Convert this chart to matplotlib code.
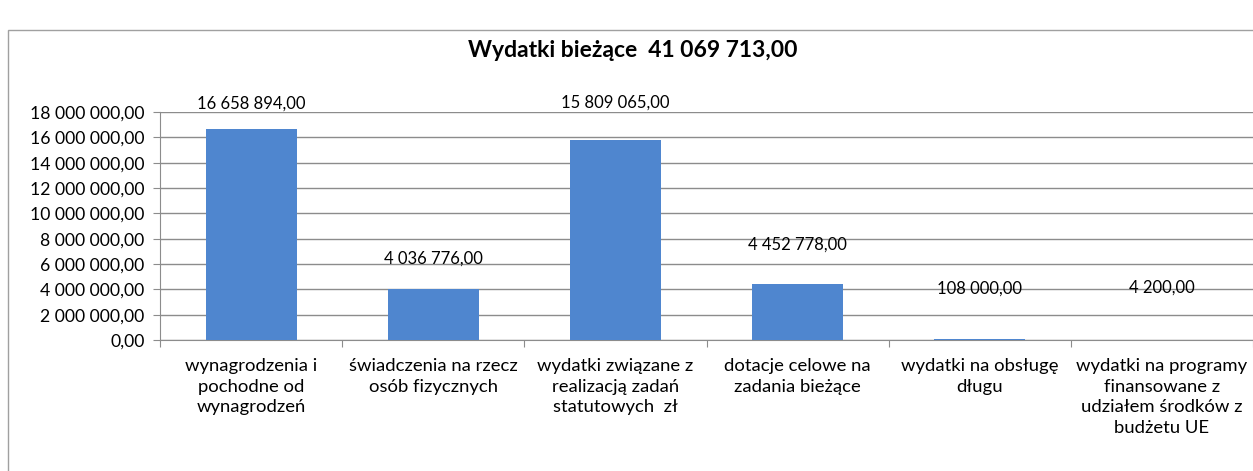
import matplotlib
matplotlib.use("Agg")
import matplotlib.pyplot as plt
from matplotlib.patches import Rectangle
from matplotlib.ticker import FuncFormatter, MultipleLocator

plt.rcParams['font.family'] = ['Lato', 'DejaVu Sans']

categories = [
    "wynagrodzenia i\npochodne od\nwynagrodzeń",
    "świadczenia na rzecz\nosób fizycznych",
    "wydatki związane z\nrealizacją zadań\nstatutowych  zł",
    "dotacje celowe na\nzadania bieżące",
    "wydatki na obsługę\ndługu",
    "wydatki na programy\nfinansowane z\nudziałem środków z\nbudżetu UE",
]
values = [16658894.00, 4036776.00, 15809065.00, 4452778.00, 108000.00, 4200.00]
value_labels = ["16 658 894,00", "4 036 776,00", "15 809 065,00",
                "4 452 778,00", "108 000,00", "4 200,00"]
title = "Wydatki bieżące  41 069 713,00"
label_offsets_pt = [18, 22, 27, 28, 36, 38]

def fmt(v, pos=None):
    s = f"{int(round(v)):,}".replace(",", " ")
    return s + ",00"

fig = plt.figure(figsize=(12.53, 4.71), dpi=100)
ax = fig.add_axes([0.1277, 0.278, 0.8723, 0.484])

x = list(range(len(values)))
ax.bar(x, values, width=0.5, color="#4F86CF", zorder=3)
ax.set_xlim(-0.5, len(values) - 0.5)
ax.set_ylim(0, 18000000)
ax.yaxis.set_major_locator(MultipleLocator(2000000))
ax.yaxis.set_major_formatter(FuncFormatter(fmt))
ax.grid(axis='y', color='#8c8c8c', linewidth=1.0, zorder=0)
ax.tick_params(axis='y', labelsize=12.7, length=5, color='#8c8c8c', pad=6)
ax.set_xticks([i - 0.5 for i in range(len(values) + 1)])
ax.set_xticklabels([])
ax.tick_params(axis='x', length=5, color='#8c8c8c')
ax.set_xticks(x, minor=True)
ax.set_xticklabels(categories, minor=True, fontsize=13.3, linespacing=1.35)
ax.tick_params(axis='x', which='minor', length=0, pad=13)
for s in ['top', 'right']:
    ax.spines[s].set_visible(False)
for s in ['left', 'bottom']:
    ax.spines[s].set_color('#8c8c8c')

for i, (v, lab) in enumerate(zip(values, value_labels)):
    ax.annotate(lab, (i, v), xytext=(0, label_offsets_pt[i]), textcoords='offset points',
                ha='center', va='center', fontsize=12)

fig.text(0.505, 0.892, title, ha='center', va='center', fontsize=16.5, fontweight='bold')
fig.patches.append(Rectangle((0.0065, -0.02), 1.0, 0.956, transform=fig.transFigure,
                             fill=False, edgecolor='#a0a0a0', linewidth=1.0))

fig.savefig("out.png", dpi=100)
